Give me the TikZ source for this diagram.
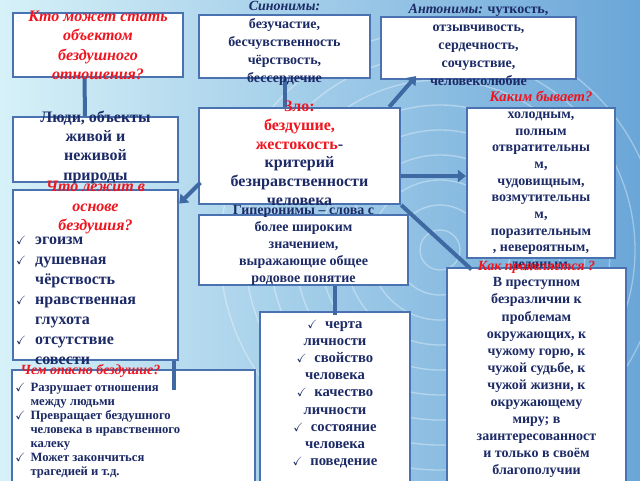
\documentclass[tikz,border=0pt]{standalone}
\usepackage{amssymb}
\usepackage{fontspec}
\setmainfont{Liberation Serif}
\usetikzlibrary{arrows.meta}
\definecolor{boxblue}{HTML}{4A72B0}
\definecolor{linkblue}{HTML}{3F69A2}
\definecolor{inkblue}{HTML}{1C2A66}
\definecolor{qred}{HTML}{F0141E}
\definecolor{bgleft}{HTML}{D6F1F8}
\definecolor{bgright}{HTML}{6AA6D8}
\newcommand{\ck}{\makebox[1.2em][l]{\small$\checkmark$}}

\begin{document}
\begin{tikzpicture}[x=0.75pt, y=-0.75pt]
  \tikzstyle{box}=[draw=boxblue, line width=1.6pt, fill=white, inner sep=0pt]
  \tikzstyle{txt}=[anchor=north, inner sep=0pt, align=center, text=inkblue, font=\bfseries\fontsize{10.5}{13.5}\selectfont]
  \tikzstyle{big}=[txt, font=\bfseries\fontsize{12}{15}\selectfont]
  \tikzstyle{ask}=[text=qred, font=\bfseries\itshape\fontsize{11}{14}\selectfont]
  \tikzstyle{link}=[draw=linkblue, line width=3pt]
  \tikzstyle{arrow}=[link, -{Triangle[length=6pt,width=9pt]}]

  % Background with rings
  \useasboundingbox (0,0) rectangle (640,480);
  \clip (0,0) rectangle (640,480);
  \shade[left color=bgleft, right color=bgright] (0,0) rectangle (640,480);
  \foreach \r in {20,45,...,220}
      \draw[white, opacity=0.35, line width=1pt] (440,250) circle (\r);

  % Boxes
  \node[box, minimum width=127.5pt, minimum height=48pt] (who) at (98,45) {};
  \node[box, minimum width=128pt, minimum height=47pt] (syn) at (284.5,46.5) {};
  \node[box, minimum width=146pt, minimum height=46.5pt] (ant) at (478.5,48) {};
  \node[box, minimum width=124pt, minimum height=49pt] (people) at (95.5,149.5) {};
  \node[box, minimum width=151pt, minimum height=72pt] (evil) at (299.5,156) {};
  \node[box, minimum width=111pt, minimum height=112.5pt] (kind) at (541,183) {};
  \node[box, minimum width=124pt, minimum height=127.5pt] (basis) at (95.5,275) {};
  \node[box, minimum width=157pt, minimum height=52.5pt] (hyper) at (303.5,250) {};
  \node[box, minimum width=112.5pt, minimum height=130pt] (traits) at (335,398.5) {};
  \node[box, minimum width=182pt, minimum height=86pt] (danger) at (133.5,427.5) {};
  \node[box, minimum width=134pt, minimum height=163pt] (shows) at (536.5,376.5) {};

  % Connectors
  \draw[link] ([xshift=-10pt]who.south) -- ([xshift=-8pt]people.north);
  \draw[link] (syn.south) -- (syn.south |- evil.north);
  \draw[arrow] ([xshift=-9pt]evil.north east) -- ([xshift=27pt,yshift=3pt]ant.south west);
  \draw[arrow] ([yshift=-15pt]evil.east) -- ([yshift=-15pt]evil.east -| kind.west);
  \draw[arrow] ([xshift=2pt,yshift=-20pt]evil.west) -- ([yshift=-11pt]basis.north east);
  \draw[link] (evil.south east) -- ([xshift=19pt,yshift=-2pt]shows.north west);
  \draw[link] (traits.north |- hyper.south) -- ([yshift=-3pt]traits.north);
  \draw[link] ([xshift=-4pt]basis.south east) -- ([xshift=-4pt,yshift=-16pt]basis.south east |- danger.north);

  % Texts
  \node[big, ask, align=center, font=\bfseries\itshape\fontsize{12}{14.5}\selectfont] (who-t) at ([yshift=1pt]who.north)
      {Кто может стать\\объектом\\бездушного\\отношения?};
  \node[txt] (syn-t) at ([yshift=10pt]syn.north)
      {\textit{Синонимы:}\\безучастие,\\бесчувственность\\чёрствость,\\бессердечие};
  \node[txt] (ant-t) at ([yshift=9pt]ant.north)
      {\textit{Антонимы:} чуткость,\\отзывчивость,\\сердечность,\\сочувствие,\\человеколюбие};
  \node[big, font=\bfseries\fontsize{12}{14.5}\selectfont] (people-t) at ([yshift=4pt]people.north)
      {Люди, объекты\\живой и\\неживой\\природы};
  \node[big, font=\bfseries\fontsize{12}{14.2}\selectfont] (evil-t) at ([yshift=5pt]evil.north)
      {\textcolor{qred}{Зло:}\\\textcolor{qred}{бездушие,}\\\textcolor{qred}{жестокость}-\\критерий\\безнравственности\\человека};
  \node[txt, font=\bfseries\fontsize{10.5}{12.5}\selectfont] (kind-t) at ([yshift=12pt]kind.north)
      {\textcolor{qred}{\itshape\fontsize{11}{12.5}\selectfont Каким бывает?}\\холодным,\\полным\\отвратительны\\м,\\чудовищным,\\возмутительны\\м,\\поразительным\\, невероятным,\\ледяным.};
  \node[big, ask, font=\bfseries\itshape\fontsize{12}{14.5}\selectfont] (basis-t) at ([yshift=6pt]basis.north)
      {Что лежит в\\основе\\бездушия?};
  \node[big, anchor=north west, align=left] (basis-l) at ([xshift=3pt,yshift=-35pt]basis.north west)
      {\ck эгоизм\\\ck душевная\\\hspace{1.2em}чёрствость\\\ck нравственная\\\hspace{1.2em}глухота\\\ck отсутствие\\\hspace{1.2em}совести};
  \node[txt, font=\bfseries\fontsize{10.5}{12.8}\selectfont] (hyper-t) at ([yshift=7pt]hyper.north)
      {Гиперонимы – слова с\\более широким\\значением,\\выражающие общее\\родовое понятие};
  \node[txt, font=\bfseries\fontsize{11}{12.8}\selectfont] (traits-t) at ([yshift=-7pt]traits.north)
      {\ck черта\\личности\\\ck свойство\\человека\\\ck качество\\личности\\\ck состояние\\человека\\\ck поведение};
  \node[txt, ask, anchor=north west, font=\bfseries\itshape\fontsize{10.5}{12}\selectfont] (danger-t) at ([xshift=7pt,yshift=4pt]danger.north west)
      {Чем опасно бездушие?};
  \node[txt, anchor=north west, align=left, font=\bfseries\fontsize{9.5}{10.6}\selectfont] (danger-l) at ([xshift=3pt,yshift=-10pt]danger.north west)
      {\ck Разрушает отношения\\\hspace{1.2em}между людьми\\\ck Превращает бездушного\\\hspace{1.2em}человека в нравственного\\\hspace{1.2em}калеку\\\ck Может закончиться\\\hspace{1.2em}трагедией и т.д.};
  \node[txt, ask, font=\bfseries\itshape\fontsize{10.5}{12}\selectfont] (shows-t) at ([yshift=4pt]shows.north)
      {Как проявляется ?};
  \node[txt, font=\bfseries\fontsize{10.5}{12.8}\selectfont] (shows-l) at ([yshift=-8pt]shows.north)
      {В преступном\\безразличии к\\проблемам\\окружающих, к\\чужому горю, к\\чужой судьбе, к\\чужой жизни, к\\окружающему\\миру; в\\заинтересованност\\и только в своём\\благополучии};

\end{tikzpicture}
\end{document}
